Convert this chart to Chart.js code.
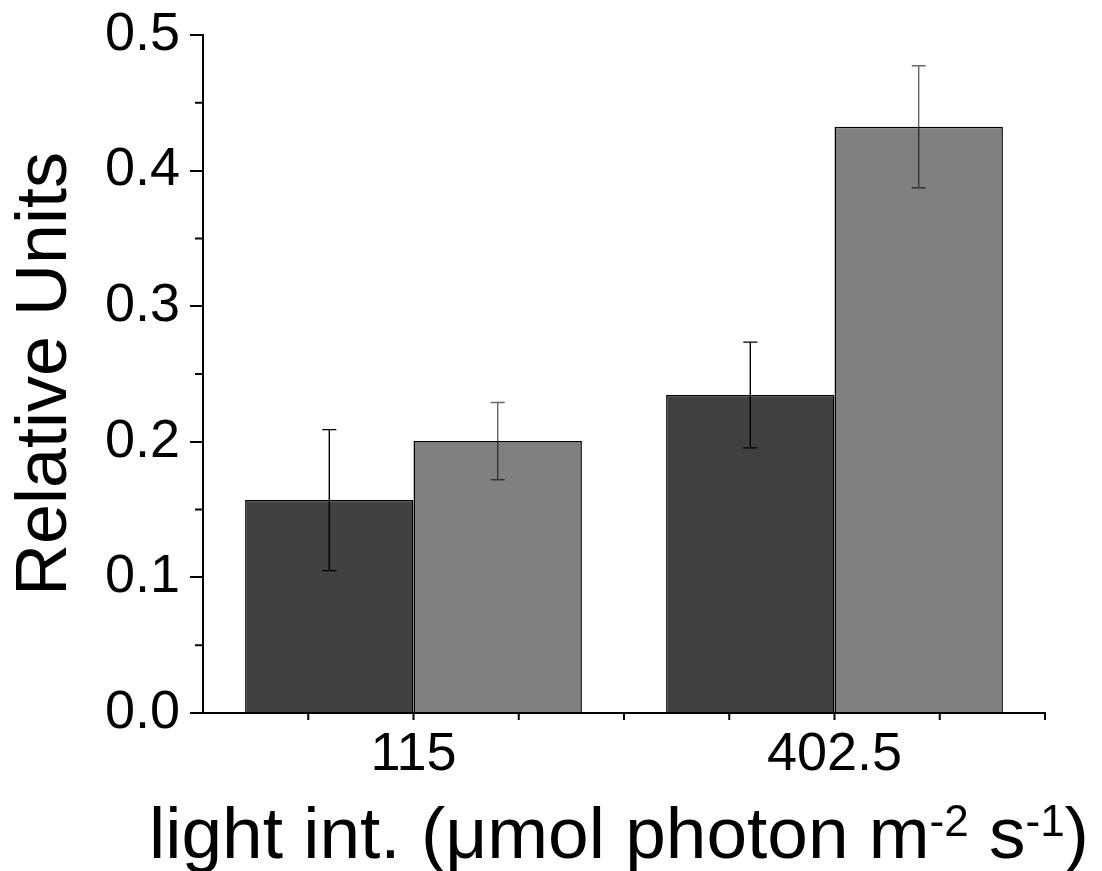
<!DOCTYPE html>
<html>
<head>
<meta charset="utf-8">
<title>Relative Units vs light intensity</title>
<script src="https://cdn.jsdelivr.net/npm/chart.js@4.4.1/dist/chart.umd.min.js"></script>
<style>
  body { margin: 0; background: #fff; }
  canvas { display: block; }
</style>
</head>
<body>
<canvas id="bar-chart" width="1102" height="871"></canvas>
<script>
  const categories = ["115", "402.5"];
  const darkValues = [0.157, 0.2345];
  const darkErrors = [0.052, 0.039];
  const greyValues = [0.2005, 0.4323];
  const greyErrors = [0.0285, 0.045];
  const yMinorTicks = [0.05, 0.15, 0.25, 0.35, 0.45];
  const xMinorTicks = [-0.25, 0, 0.25, 0.5, 0.75, 1, 1.25, 1.5];

  const fam = "'Liberation Sans', Arial, sans-serif";

  // error bars, minor ticks and the x title (it needs superscripts)
  const extras = {
    id: 'extras',
    afterDatasetsDraw(chart) {
      const ctx = chart.ctx;
      const y = chart.scales.y;
      const errs = [darkErrors, greyErrors];
      const colors = ['#000', 'rgba(0,0,0,0.6)'];
      ctx.save();
      errs.forEach((errList, d) => {
        chart.getDatasetMeta(d).data.forEach((bar, i) => {
          const v = chart.data.datasets[d].data[i];
          const top = y.getPixelForValue(v + errList[i]);
          const bot = y.getPixelForValue(v - errList[i]);
          ctx.strokeStyle = colors[d];
          ctx.lineWidth = 1.4;
          ctx.beginPath();
          ctx.moveTo(bar.x, top); ctx.lineTo(bar.x, bot);
          ctx.moveTo(bar.x - 7, top); ctx.lineTo(bar.x + 7, top);
          ctx.moveTo(bar.x - 7, bot); ctx.lineTo(bar.x + 7, bot);
          ctx.stroke();
        });
      });
      ctx.restore();
    },
    afterDraw(chart) {
      const ctx = chart.ctx;
      const {x, y} = chart.scales;
      const area = chart.chartArea;
      ctx.save();
      ctx.strokeStyle = '#000';
      ctx.lineWidth = 2;
      ctx.beginPath();
      yMinorTicks.forEach(v => {
        const py = y.getPixelForValue(v);
        ctx.moveTo(area.left - 8, py); ctx.lineTo(area.left, py);
      });
      xMinorTicks.forEach(v => {
        const px = x.getPixelForValue(v);
        ctx.moveTo(px, area.bottom); ctx.lineTo(px, area.bottom + 7);
      });
      ctx.stroke();

      // x axis title
      const parts = [
        {t: 'light int. (\u03bcmol photon m', sup: false},
        {t: '-2', sup: true},
        {t: ' s', sup: false},
        {t: '-1', sup: true},
        {t: ')', sup: false}
      ];
      const big = '73px ' + fam, small = '44px ' + fam;
      let total = 0;
      parts.forEach(p => { ctx.font = p.sup ? small : big; p.w = ctx.measureText(p.t).width; total += p.w; });
      let cx = (area.left + area.right) / 2 - 5 - total / 2;
      const base = 858;
      ctx.fillStyle = '#000';
      ctx.textBaseline = 'alphabetic';
      ctx.textAlign = 'left';
      parts.forEach(p => {
        ctx.font = p.sup ? small : big;
        ctx.fillText(p.t, cx, p.sup ? base - 22 : base);
        cx += p.w;
      });
      ctx.restore();
    }
  };

  new Chart(document.getElementById('bar-chart'), {
    type: 'bar',
    data: {
      labels: categories,
      datasets: [
        { label: 'dark', data: darkValues, backgroundColor: '#404040', borderColor: '#000', borderWidth: 1.5,
          barPercentage: 1.0, categoryPercentage: 0.8 },
        { label: 'grey', data: greyValues, backgroundColor: '#808080', borderColor: '#000', borderWidth: 1.5,
          barPercentage: 1.0, categoryPercentage: 0.8 }
      ]
    },
    options: {
      responsive: false,
      animation: false,
      devicePixelRatio: 1,
      layout: { padding: { top: 35, right: 57, left: 0, bottom: 0 } },
      plugins: { legend: { display: false }, tooltip: { enabled: false } },
      scales: {
        x: {
          offset: true,
          grid: { display: false, drawTicks: true, tickLength: 8 },
          border: { display: true, color: '#000', width: 2 },
          ticks: { color: '#000', padding: 2, font: { family: fam, size: 54 } },
          afterFit: s => { s.height = 158; s.paddingLeft = 0; s.paddingRight = 0; }
        },
        y: {
          min: 0, max: 0.5,
          grid: { display: true, drawOnChartArea: false, drawTicks: true, tickLength: 13, color: '#000', lineWidth: 2 },
          border: { display: true, color: '#000', width: 2 },
          ticks: { stepSize: 0.1, color: '#000', padding: 10, font: { family: fam, size: 54 },
                   callback: v => v.toFixed(1) },
          title: { display: true, text: 'Relative Units', color: '#000', padding: { top: 3, bottom: 0 },
                   font: { family: fam, size: 72, lineHeight: 1.2 } },
          afterFit: s => { s.width = 203; s.paddingTop = 0; s.paddingBottom = 0; }
        }
      }
    },
    plugins: [extras]
  });
</script>
</body>
</html>
